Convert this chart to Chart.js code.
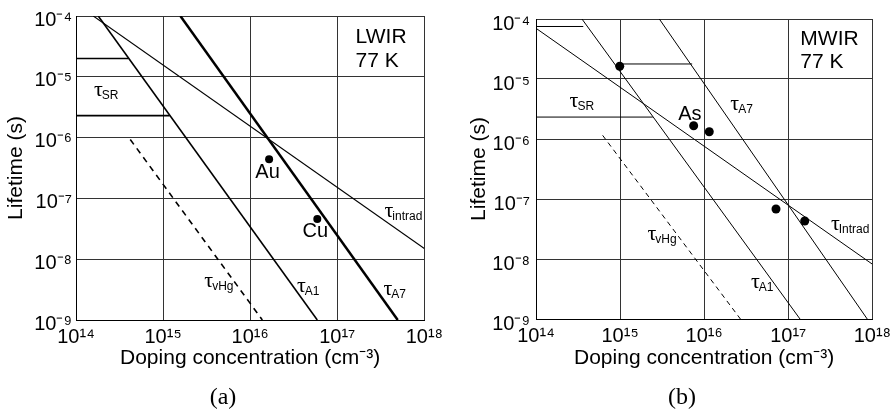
<!DOCTYPE html>
<html>
<head>
<meta charset="utf-8">
<script src="https://cdn.jsdelivr.net/npm/chart.js@4.4.1/dist/chart.umd.min.js"></script>
<style>
  body { margin: 0; background: #fff; width: 896px; height: 412px; position: relative; overflow: hidden; }
  .panel { position: absolute; top: 0; }
  .cap { position: absolute; top: 383px; width: 60px; text-align: center; font: 24px "Liberation Serif", "Times New Roman", serif; line-height: 26px; color: #000; }
</style>
</head>
<body>
<div class="panel" style="left:0"><canvas id="chartA" width="448" height="412"></canvas></div>
<div class="panel" style="left:448px"><canvas id="chartB" width="448" height="412"></canvas></div>
<div class="cap" style="left:193px">(a)</div>
<div class="cap" style="left:652px">(b)</div>
<script>
// axes
let xTicks = [1e14, 1e15, 1e16, 1e17, 1e18];
let xTickLabels = ['10¹⁴', '10¹⁵', '10¹⁶', '10¹⁷', '10¹⁸'];
let yTicks = [1e-9, 1e-8, 1e-7, 1e-6, 1e-5, 1e-4];
let yTickLabels = ['10⁻⁹', '10⁻⁸', '10⁻⁷', '10⁻⁶', '10⁻⁵', '10⁻⁴'];

// (a) LWIR, 77 K  -- doping (cm-3) vs lifetime (s)
let lwirIntradN = [1.58e14, 1e18];
let lwirIntradTau = [1e-4, 1.5e-8];
let lwirA1N = [1.8e14, 5.9e16];
let lwirA1Tau = [1e-4, 1e-9];
let lwirA7N = [1.58e15, 4.95e17];
let lwirA7Tau = [1e-4, 1e-9];
let lwirVHgN = [4.2e14, 1.38e16];
let lwirVHgTau = [9.3e-7, 1e-9];
let lwirSrHighN = [1e14, 4e14];
let lwirSrHighTau = [2e-5, 2e-5];
let lwirSrLowN = [1e14, 1.19e15];
let lwirSrLowTau = [2.3e-6, 2.3e-6];
let lwirDotN = [1.65e16, 5.9e16];      // Au, Cu
let lwirDotTau = [4.4e-7, 4.6e-8];

// (b) MWIR, 77 K
let mwirIntradN = [1e14, 1e18];
let mwirIntradTau = [7e-5, 8.2e-9];
let mwirA1N = [3.52e14, 1.38e17];
let mwirA1Tau = [1e-4, 1e-9];
let mwirA7N = [2.93e15, 8.7e17];
let mwirA7Tau = [1e-4, 1e-9];
let mwirVHgN = [6.2e14, 2.7e16];
let mwirVHgTau = [1.15e-6, 1e-9];
let mwirSrHighN = [1e14, 3.65e14];
let mwirSrHighTau = [7.5e-5, 7.5e-5];
let mwirSrMidN = [9.9e14, 7.2e15];
let mwirSrMidTau = [1.78e-5, 1.78e-5];
let mwirSrLowN = [1e14, 2.45e15];
let mwirSrLowTau = [2.32e-6, 2.32e-6];
let mwirDotN = [9.9e14, 7.5e15, 1.15e16, 7.15e16, 1.57e17];
let mwirDotTau = [1.63e-5, 1.66e-6, 1.32e-6, 6.8e-8, 4.3e-8];

// text placed in log10 units of the axes
let lwirNotes = [
  {text: 'LWIR', x: 17.211, y: -4.444, big: true},
  {text: '77 K', x: 17.211, y: -4.839, big: true},
  {tau: 'SR', x: 14.206, y: -5.316},
  {tau: 'intrad', x: 17.543, y: -7.306},
  {tau: 'vHg', x: 15.474, y: -8.457},
  {tau: 'A1', x: 16.537, y: -8.539},
  {tau: 'A7', x: 17.531, y: -8.589},
  {text: 'Au', x: 16.2, y: -6.664, center: true},
  {text: 'Cu', x: 16.749, y: -7.635, center: true}
];
let mwirNotes = [
  {text: 'MWIR', x: 17.144, y: -4.433, big: true},
  {text: '77 K', x: 17.144, y: -4.817, big: true},
  {tau: 'SR', x: 14.399, y: -5.467},
  {tau: 'A7', x: 16.311, y: -5.517},
  {tau: 'vHg', x: 15.326, y: -7.683},
  {tau: 'A1', x: 16.557, y: -8.483},
  {tau: 'Intrad', x: 17.507, y: -7.517},
  {text: 'As', x: 15.83, y: -5.683, center: true}
];

const SANS = '"Liberation Sans", Arial, sans-serif';
const SERIF = '"Liberation Serif", "Times New Roman", serif';

function pts(xs, ys) {
  return xs.map((x, i) => ({x: x, y: ys[i]}));
}

function line(xs, ys, width, dash) {
  return {
    data: pts(xs, ys),
    showLine: true,
    borderColor: '#000',
    borderWidth: width,
    borderDash: dash || [],
    pointRadius: 0,
    pointHoverRadius: 0
  };
}

function dots(xs, ys, r) {
  return {
    data: pts(xs, ys),
    showLine: false,
    pointRadius: r,
    pointHoverRadius: r,
    pointBackgroundColor: '#000',
    pointBorderWidth: 0
  };
}

let notesPlugin = {
  id: 'notes',
  afterDatasetsDraw(chart, args, opts) {
    let ctx = chart.ctx;
    let sx = chart.scales.x, sy = chart.scales.y;
    ctx.save();
    ctx.fillStyle = '#000';
    ctx.textBaseline = 'alphabetic';
    opts.items.forEach(n => {
      let px = sx.getPixelForValue(Math.pow(10, n.x));
      let py = sy.getPixelForValue(Math.pow(10, n.y));
      if (n.tau) {
        ctx.textAlign = 'left';
        ctx.font = '22px ' + SERIF;
        ctx.fillText('τ', px, py);
        let w = ctx.measureText('τ').width;
        ctx.font = '12px ' + SANS;
        ctx.fillText(n.tau, px + w - 1, py + 3);
      } else {
        ctx.textAlign = n.center ? 'center' : 'left';
        ctx.font = (n.big ? '21px ' : '20px ') + SANS;
        ctx.fillText(n.text, px, py);
      }
    });
    ctx.restore();
  }
};

function makeChart(id, datasets, notes, lay) {
  return new Chart(document.getElementById(id), {
    type: 'scatter',
    data: {datasets: datasets},
    options: {
      responsive: false,
      animation: false,
      events: [],
      layout: {padding: {left: 0, top: lay.top, right: lay.right, bottom: 0}},
      plugins: {
        legend: {display: false},
        tooltip: {enabled: false},
        notes: {items: notes}
      },
      scales: {
        x: {
          type: 'logarithmic',
          min: 1e14,
          max: 1e18,
          afterBuildTicks: s => { s.ticks = xTicks.map(v => ({value: v})); },
          afterFit: s => { s.height = 412 - lay.bottom; },
          ticks: {
            autoSkip: false,
            maxRotation: 0,
            padding: 5,
            color: '#000',
            font: {family: SANS, size: 20},
            callback: (v, i) => xTickLabels[i]
          },
          grid: {color: '#333', lineWidth: 1, drawTicks: false},
          border: {color: '#000', width: 1},
          title: {
            display: true,
            text: 'Doping concentration (cm⁻³)',
            color: '#000',
            font: {family: SANS, size: 21},
            padding: {top: 0, bottom: 41}
          }
        },
        y: {
          type: 'logarithmic',
          min: 1e-9,
          max: 1e-4,
          afterBuildTicks: s => { s.ticks = yTicks.map(v => ({value: v})); },
          afterFit: s => { s.width = lay.left; },
          ticks: {
            autoSkip: false,
            padding: lay.tickPad,
            labelOffset: lay.labelOffset,
            color: '#000',
            font: {family: SANS, size: 20},
            callback: (v, i) => yTickLabels[i]
          },
          grid: {color: '#333', lineWidth: 1, drawTicks: false},
          border: {color: '#000', width: 1},
          title: {
            display: true,
            text: 'Lifetime (s)',
            color: '#000',
            font: {family: SANS, size: 21},
            padding: {top: lay.titlePad, bottom: 0}
          }
        }
      }
    },
    plugins: [notesPlugin]
  });
}

makeChart('chartA', [
  line(lwirIntradN, lwirIntradTau, 1.1),
  line(lwirA1N, lwirA1Tau, 1.6),
  line(lwirA7N, lwirA7Tau, 2.5),
  line(lwirVHgN, lwirVHgTau, 1.6, [6, 5]),
  line(lwirSrHighN, lwirSrHighTau, 1.6),
  line(lwirSrLowN, lwirSrLowTau, 1.6),
  dots(lwirDotN, lwirDotTau, 4)
], lwirNotes, {left: 76, top: 16, right: 22, bottom: 320, tickPad: 4, labelOffset: 4, titlePad: 4});

makeChart('chartB', [
  line(mwirIntradN, mwirIntradTau, 1),
  line(mwirA1N, mwirA1Tau, 1),
  line(mwirA7N, mwirA7Tau, 1),
  line(mwirVHgN, mwirVHgTau, 1, [5, 4]),
  line(mwirSrHighN, mwirSrHighTau, 1),
  line(mwirSrMidN, mwirSrMidTau, 1),
  line(mwirSrLowN, mwirSrLowTau, 1),
  dots(mwirDotN, mwirDotTau, 4.5)
], mwirNotes, {left: 88, top: 19, right: 19, bottom: 319, tickPad: 6, labelOffset: 5, titlePad: 19});
</script>
</body>
</html>
